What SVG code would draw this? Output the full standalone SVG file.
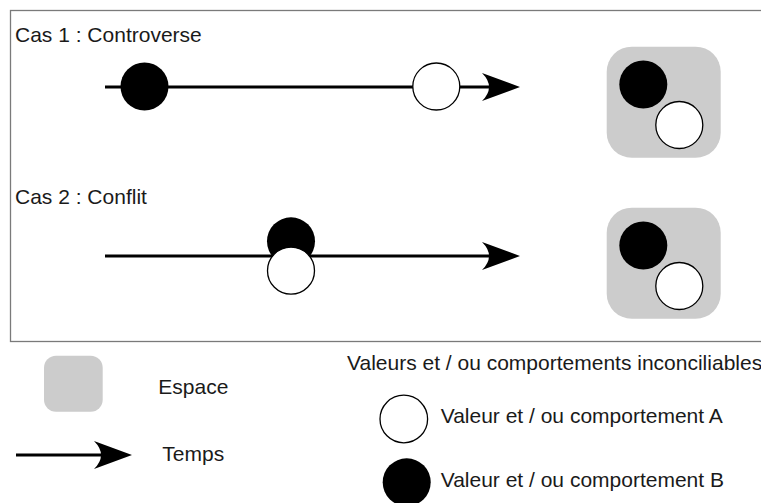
<svg xmlns="http://www.w3.org/2000/svg" width="761" height="503" viewBox="0 0 761 503">
<style>
text{font-family:"Liberation Sans",Arial,sans-serif;font-size:21px;fill:#1a1a1a}
.frame{fill:none;stroke:#7a7a7a;stroke-width:1.3}
.space{fill:#cccccc}
.b{fill:#000}
.w{fill:#fff;stroke:#000;stroke-width:1.3}
.t{stroke:#000;stroke-width:3;fill:none}
</style>
<defs>
<marker id="arr" markerUnits="userSpaceOnUse" viewBox="0 0 40 30" markerWidth="40" markerHeight="30" refX="8" refY="15" orient="auto">
<path d="M38,15 L0,1 Q7,8 7,15 Q7,22 0,29 Z" fill="#000"/>
</marker>
</defs>
<rect class="frame" x="10.5" y="10.5" width="800" height="331"/>
<g id="connectors">
<line class="t" x1="105" y1="87" x2="490" y2="87" marker-end="url(#arr)"/>
<line class="t" x1="105" y1="256" x2="490" y2="256" marker-end="url(#arr)"/>
<line class="t" x1="16" y1="455" x2="102" y2="455" marker-end="url(#arr)"/>
</g>
<g id="case1-title"><text x="15" y="41.5">Cas 1 : Controverse</text></g>
<g id="case1-b"><circle class="b" cx="144.5" cy="86.5" r="24"/></g>
<g id="case1-a"><circle class="w" cx="436.3" cy="86.5" r="23.5"/></g>
<g id="case1-space">
<rect class="space" x="606.7" y="46.7" width="114" height="111" rx="25"/>
<circle class="b" cx="643.3" cy="84.5" r="24"/>
<circle class="w" cx="679.3" cy="125" r="23.5"/>
</g>
<g id="case2-title"><text x="15" y="204">Cas 2 : Conflit</text></g>
<g id="case2-b"><circle class="b" cx="291" cy="241.3" r="24"/></g>
<g id="case2-a"><circle class="w" cx="291" cy="270.7" r="23.5"/></g>
<g id="case2-space">
<rect class="space" x="606.7" y="207.7" width="114" height="111" rx="25"/>
<circle class="b" cx="643.3" cy="245.5" r="24"/>
<circle class="w" cx="679.3" cy="286" r="23.5"/>
</g>
<g id="legend-space">
<rect class="space" x="44" y="355.7" width="58.7" height="56" rx="12"/>
<text x="158.3" y="394">Espace</text>
</g>
<g id="legend-time"><text x="162.3" y="460.5">Temps</text></g>
<g id="legend-title"><text x="347" y="370">Valeurs et / ou comportements inconciliables</text></g>
<g id="legend-a">
<circle class="w" cx="403.8" cy="419" r="23.8"/>
<text x="440.7" y="423.3">Valeur et / ou comportement A</text>
</g>
<g id="legend-b">
<circle class="b" cx="406.7" cy="482.3" r="24"/>
<text x="440.7" y="486.7">Valeur et / ou comportement B</text>
</g>
</svg>
